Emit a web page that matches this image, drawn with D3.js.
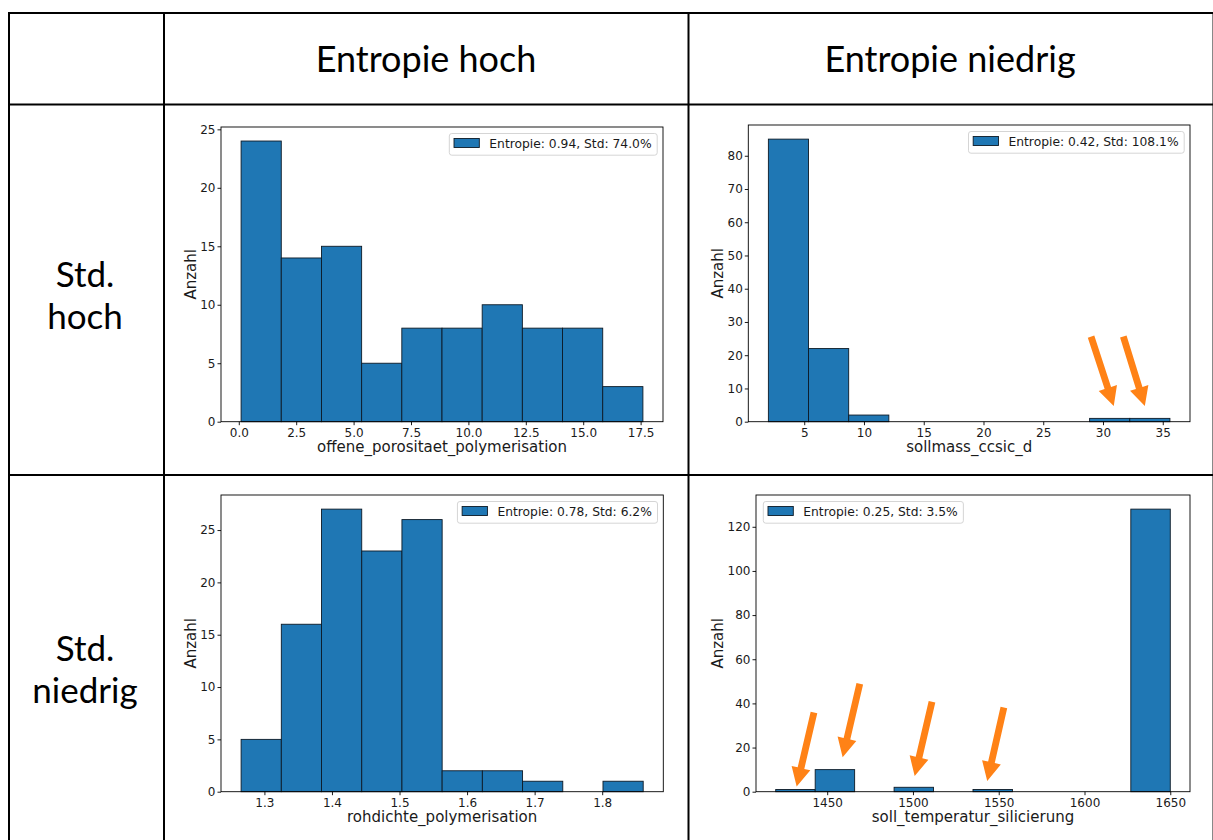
<!DOCTYPE html>
<html>
<head>
<meta charset="utf-8">
<script src="https://cdn.jsdelivr.net/npm/d3@7"></script>
<style>
  body { margin: 0; background: #fff; }
  svg { display: block; }
</style>
</head>
<body>
<svg id="chart" width="1213" height="840"></svg>
<script>
// ---- table headers ----
const colHeaders = ["Entropie hoch", "Entropie niedrig"];
const rowHeaders = [["Std.", "hoch"], ["Std.", "niedrig"]];

// ---- histogram data (counts per equal-width bin, value range of the bins) ----
const poroName = "offene_porositaet_polymerisation";
const poroCounts = [24, 14, 15, 5, 8, 8, 10, 8, 8, 3];
const poroRange = [0.1, 17.6];
const poroXTicks = [0.0, 2.5, 5.0, 7.5, 10.0, 12.5, 15.0, 17.5];
const poroYTicks = [0, 5, 10, 15, 20, 25];
const poroLegend = "Entropie: 0.94, Std: 74.0%";

const sollmassName = "sollmass_ccsic_d";
const sollmassCounts = [85, 22, 2, 0, 0, 0, 0, 0, 1, 1];
const sollmassRange = [2.0, 35.6];
const sollmassXTicks = [5, 10, 15, 20, 25, 30, 35];
const sollmassYTicks = [0, 10, 20, 30, 40, 50, 60, 70, 80];
const sollmassLegend = "Entropie: 0.42, Std: 108.1%";
// arrows pointing at the rare bins: [tailX, tailY, tipX, tipY] in data units
const sollmassArrows = [[29.0, 25.6, 30.9, 4.7], [31.7, 25.6, 33.5, 4.7]];

const rohName = "rohdichte_polymerisation";
const rohCounts = [5, 16, 27, 23, 26, 2, 2, 1, 0, 1];
const rohRange = [1.2655, 1.8607];
const rohXTicks = [1.3, 1.4, 1.5, 1.6, 1.7, 1.8];
const rohYTicks = [0, 5, 10, 15, 20, 25];
const rohLegend = "Entropie: 0.78, Std: 6.2%";

const tempName = "soll_temperatur_silicierung";
const tempCounts = [1, 10, 0, 2, 0, 1, 0, 0, 0, 128];
const tempRange = [1420, 1650];
const tempXTicks = [1450, 1500, 1550, 1600, 1650];
const tempYTicks = [0, 20, 40, 60, 80, 100, 120];
const tempLegend = "Entropie: 0.25, Std: 3.5%";
const tempArrows = [
  [1442.3, 35.9, 1432.2, 2.3],
  [1469.0, 48.9, 1459.0, 15.6],
  [1511.1, 40.7, 1501.0, 7.1],
  [1553.0, 38.1, 1543.3, 4.9]
];

// ---- panel layout (pixel frames of the plot areas) ----
const panels = [
  { name: poroName, counts: poroCounts, range: poroRange, xTicks: poroXTicks, yTicks: poroYTicks,
    fmt: d3.format(".1f"), legend: poroLegend, legendLoc: "right", arrows: [],
    frame: { l: 221, t: 127, r: 663, b: 421.7 } },
  { name: sollmassName, counts: sollmassCounts, range: sollmassRange, xTicks: sollmassXTicks, yTicks: sollmassYTicks,
    fmt: d3.format("d"), legend: sollmassLegend, legendLoc: "right", arrows: sollmassArrows,
    frame: { l: 748.3, t: 125, r: 1190, b: 421.7 } },
  { name: rohName, counts: rohCounts, range: rohRange, xTicks: rohXTicks, yTicks: rohYTicks,
    fmt: d3.format(".1f"), legend: rohLegend, legendLoc: "right", arrows: [],
    frame: { l: 221, t: 495, r: 663.3, b: 791.7 } },
  { name: tempName, counts: tempCounts, range: tempRange, xTicks: tempXTicks, yTicks: tempYTicks,
    fmt: d3.format("d"), legend: tempLegend, legendLoc: "left", arrows: tempArrows,
    frame: { l: 756, t: 495, r: 1190, b: 791.7 } }
];

const BAR = "#1f77b4";
const ARROW = "#ff8216";
const MPL_FONT = "'DejaVu Sans', sans-serif";
const HEAD_FONT = "Lato, 'Open Sans', sans-serif";

const svg = d3.select("#chart");

// ---- table grid ----
const grid = svg.append("g").attr("stroke", "#000");
[[9, 2], [164, 2], [688.5, 2]].forEach(([x, w]) =>
  grid.append("line").attr("x1", x).attr("x2", x).attr("y1", 12).attr("y2", 840).attr("stroke-width", w));
grid.append("line").attr("x1", 1212.5).attr("x2", 1212.5).attr("y1", 12).attr("y2", 840)
  .attr("stroke", "#888").attr("stroke-width", 1);
[13, 104.5, 475].forEach(y =>
  grid.append("line").attr("x1", 8).attr("x2", 1213).attr("y1", y).attr("y2", y).attr("stroke-width", 2));

// column headers
const colCenters = [426, 950];
colHeaders.forEach((t, i) =>
  svg.append("text").attr("x", colCenters[i]).attr("y", 72)
    .attr("text-anchor", "middle").attr("font-family", HEAD_FONT).attr("font-size", 36)
    .attr("fill", "#000").text(t));

// row headers (two lines each)
const rowFirstBaseline = [287, 661];
const rowLineGap = 42;
rowHeaders.forEach((lines, i) =>
  lines.forEach((s, j) =>
    svg.append("text").attr("x", 85).attr("y", rowFirstBaseline[i] + j * rowLineGap)
      .attr("text-anchor", "middle").attr("font-family", HEAD_FONT).attr("font-size", 35)
      .attr("fill", "#000").text(s)));

// ---- histograms ----
panels.forEach(p => {
  const f = p.frame;
  const span = p.range[1] - p.range[0];
  const n = p.counts.length;
  const w = span / n;
  const maxC = d3.max(p.counts);

  const x = d3.scaleLinear().domain([p.range[0] - 0.05 * span, p.range[1] + 0.05 * span]).range([f.l, f.r]);
  const y = d3.scaleLinear().domain([0, maxC * 1.05]).range([f.b, f.t]);

  const g = svg.append("g");

  // bars
  const bins = p.counts.map((c, i) => ({ x0: p.range[0] + i * w, x1: p.range[0] + (i + 1) * w, c }));
  g.selectAll("rect.bar").data(bins.filter(d => d.c > 0)).join("rect")
    .attr("class", "bar")
    .attr("x", d => x(d.x0)).attr("width", d => x(d.x1) - x(d.x0))
    .attr("y", d => y(d.c)).attr("height", d => y(0) - y(d.c))
    .attr("fill", BAR).attr("stroke", "#0d1a26").attr("stroke-width", 0.9);

  // axes
  const xAxis = d3.axisBottom(x).tickValues(p.xTicks).tickFormat(p.fmt).tickSize(3.5).tickPadding(3).tickSizeOuter(0);
  const yAxis = d3.axisLeft(y).tickValues(p.yTicks).tickFormat(d3.format("d")).tickSize(3.5).tickPadding(2).tickSizeOuter(0);
  const gx = g.append("g").attr("transform", `translate(0,${f.b})`).call(xAxis);
  const gy = g.append("g").attr("transform", `translate(${f.l},0)`).call(yAxis);
  [gx, gy].forEach(a => {
    a.select(".domain").remove();
    a.selectAll("line").attr("stroke", "#000").attr("stroke-width", 0.9);
    a.selectAll("text").attr("font-family", MPL_FONT).attr("font-size", 12).attr("fill", "#1a1a1a");
  });

  // frame (spines)
  g.append("rect").attr("x", f.l).attr("y", f.t).attr("width", f.r - f.l).attr("height", f.b - f.t)
    .attr("fill", "none").attr("stroke", "#000").attr("stroke-width", 0.9);

  // axis labels
  g.append("text").attr("x", (f.l + f.r) / 2).attr("y", f.b + 30.5)
    .attr("text-anchor", "middle").attr("font-family", MPL_FONT).attr("font-size", 15)
    .attr("fill", "#1a1a1a").text(p.name);
  let maxW = 0;
  gy.selectAll("text").each(function () { maxW = Math.max(maxW, this.getComputedTextLength()); });
  const lx = f.l - (5.5 + maxW + 9.5);
  g.append("text").attr("transform", `translate(${lx},${(f.t + f.b) / 2}) rotate(-90)`)
    .attr("text-anchor", "middle").attr("dominant-baseline", "central")
    .attr("font-family", MPL_FONT).attr("font-size", 15).attr("fill", "#1a1a1a").text("Anzahl");

  // legend
  const lg = g.append("g");
  const txt = lg.append("text").attr("font-family", MPL_FONT).attr("font-size", 12.3)
    .attr("fill", "#1a1a1a").text(p.legend);
  const tw = txt.node().getComputedTextLength();
  const bw = 4.7 + 25.3 + 10 + tw + 5.6, bh = 21.7;
  const bx = p.legendLoc === "right" ? f.r - 5.8 - bw : f.l + 7.3;
  const by = f.t + 6.5;
  lg.insert("rect", "text").attr("x", bx).attr("y", by).attr("width", bw).attr("height", bh)
    .attr("rx", 2.5).attr("fill", "#fff").attr("fill-opacity", 0.8).attr("stroke", "#d5d5d5").attr("stroke-width", 1);
  lg.insert("rect", "text").attr("x", bx + 4.7).attr("y", by + 5).attr("width", 25.3).attr("height", 9)
    .attr("fill", BAR).attr("stroke", "#0d1a26").attr("stroke-width", 0.9);
  txt.attr("x", bx + 40).attr("y", by + 14.6);

  // annotation arrows
  p.arrows.forEach(a => {
    const x0 = x(a[0]), y0 = y(a[1]), x1 = x(a[2]), y1 = y(a[3]);
    const len = Math.hypot(x1 - x0, y1 - y0);
    const ux = (x1 - x0) / len, uy = (y1 - y0) / len;
    const nx = -uy, ny = ux;
    const sw = 3.4, hw = 9.6, hl = 19;
    const bxp = x1 - ux * hl, byp = y1 - uy * hl;
    const pts = [
      [x0 + nx * sw, y0 + ny * sw],
      [bxp + nx * sw, byp + ny * sw],
      [bxp + nx * hw, byp + ny * hw],
      [x1, y1],
      [bxp - nx * hw, byp - ny * hw],
      [bxp - nx * sw, byp - ny * sw],
      [x0 - nx * sw, y0 - ny * sw]
    ];
    g.append("path").attr("d", d3.line()(pts) + "Z").attr("fill", ARROW);
  });
});
</script>
</body>
</html>
